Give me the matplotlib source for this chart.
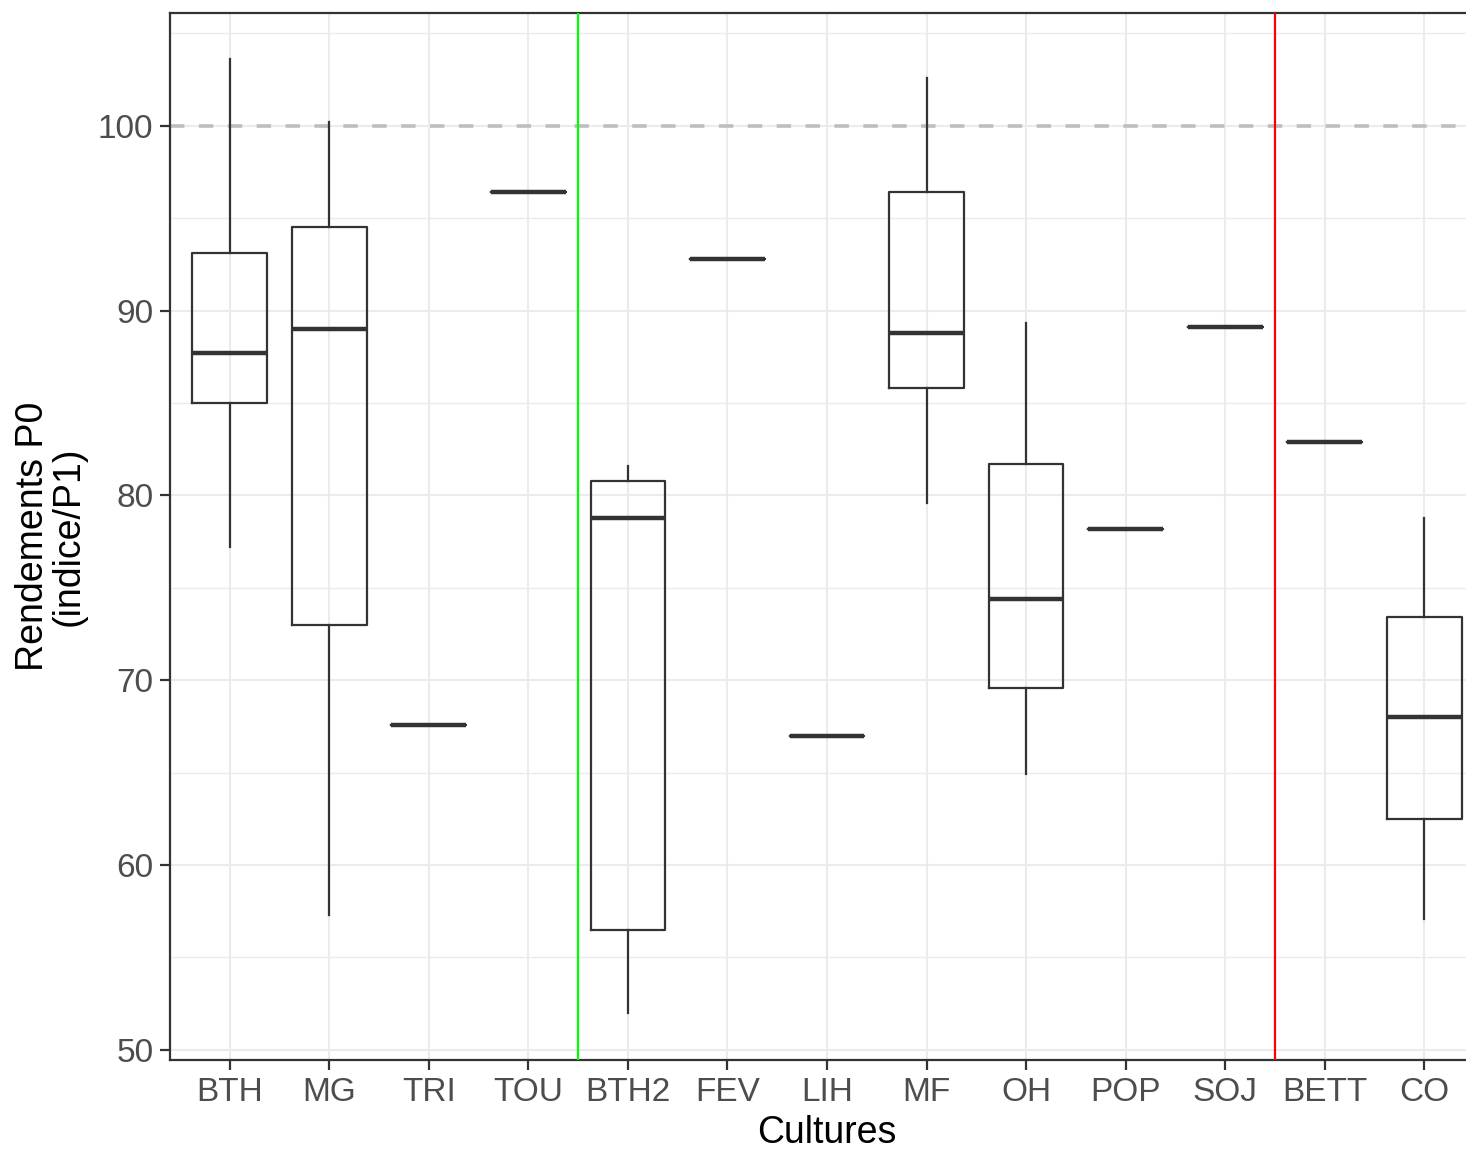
import matplotlib
matplotlib.use("Agg")
import matplotlib.pyplot as plt
from matplotlib.ticker import MultipleLocator
from matplotlib import font_manager

# boxplot summaries (rendements P0, indice / P1)
cultures = ["BTH", "MG", "TRI", "TOU", "BTH2", "FEV", "LIH", "MF", "OH", "POP", "SOJ", "BETT", "CO"]
whislo = [77.2, 57.3, 67.6, 96.4, 52.0, 92.8, 67.0, 79.6, 64.9, 78.2, 89.1, 82.9, 57.1]
q1 = [85.0, 73.0, 67.6, 96.4, 56.5, 92.8, 67.0, 85.8, 69.6, 78.2, 89.1, 82.9, 62.5]
med = [87.7, 89.0, 67.6, 96.4, 78.8, 92.8, 67.0, 88.8, 74.4, 78.2, 89.1, 82.9, 68.0]
q3 = [93.1, 94.5, 67.6, 96.4, 80.8, 92.8, 67.0, 96.4, 81.7, 78.2, 89.1, 82.9, 73.4]
whishi = [103.6, 100.2, 67.6, 96.4, 81.6, 92.8, 67.0, 102.6, 89.3, 78.2, 89.1, 82.9, 78.8]

# separators between crop groups
group_breaks = [4.5, 11.5]
break_colors = ["#00FF00", "#FF0000"]
ref_line = 100

installed = {f.name for f in font_manager.fontManager.ttflist}
narrow = "Liberation Sans Narrow" if "Liberation Sans Narrow" in installed else "Liberation Sans"
plt.rcParams["font.family"] = ["Liberation Sans", "DejaVu Sans"]

W, H = 1466, 1149
fig = plt.figure(figsize=(W / 100, H / 100), dpi=100)
# panel runs past the right edge of the image, as in the original crop
left, right, top, bottom = 170, 1484, 13, 1060
ax = fig.add_axes([left / W, 1 - bottom / H, (right - left) / W, (bottom - top) / H])

stats = []
for i, c in enumerate(cultures):
    stats.append(dict(label=c, whislo=whislo[i], q1=q1[i], med=med[i], q3=q3[i], whishi=whishi[i], fliers=[]))

dark = "#333333"
ax.bxp(stats, positions=range(1, len(cultures) + 1), widths=0.75, showcaps=False,
       boxprops=dict(color=dark, linewidth=1.6),
       whiskerprops=dict(color=dark, linewidth=1.6),
       medianprops=dict(color=dark, linewidth=3.2, solid_capstyle="butt"),
       zorder=3)

ax.axhline(ref_line, color="#BEBEBE", linestyle=(0, (4, 4)), linewidth=2.6, zorder=2)
for xb, col in zip(group_breaks, break_colors):
    ax.axvline(xb, color=col, linewidth=1.6, zorder=4)

ax.set_xlim(0.4, len(cultures) + 0.6)
ax.set_ylim(49.45, 106.1)
ax.yaxis.set_major_locator(MultipleLocator(10))
ax.yaxis.set_minor_locator(MultipleLocator(5))
ax.grid(which="major", color="#EBEBEB", linewidth=1.5, zorder=0)
ax.grid(which="minor", axis="y", color="#EBEBEB", linewidth=1.0, zorder=0)
ax.set_axisbelow(True)

for s in ax.spines.values():
    s.set_color("#333333")
    s.set_linewidth(1.6)

ax.tick_params(which="major", length=7, width=1.6, color="#333333", labelcolor="#4D4D4D",
               labelsize=24, pad=5)
ax.tick_params(which="minor", length=0)
for lab in ax.get_xticklabels() + ax.get_yticklabels():
    lab.set_fontfamily([narrow, "DejaVu Sans"])

ax.set_xlabel("Cultures", fontsize=27, color="black", labelpad=5, fontfamily=[narrow, "DejaVu Sans"])
ax.set_ylabel("Rendements P0\n(indice/P1)", fontsize=27, color="black", labelpad=8, linespacing=1.0)

fig.savefig("out.png", dpi=100)
